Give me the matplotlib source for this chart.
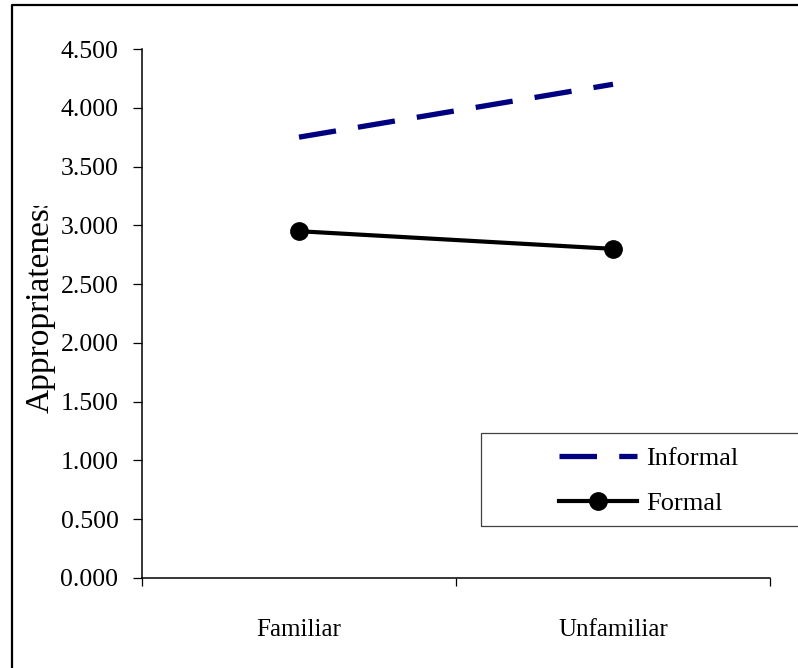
import matplotlib
matplotlib.use("Agg")
import matplotlib.pyplot as plt
from matplotlib.lines import Line2D
from matplotlib.patches import Rectangle
from matplotlib.transforms import Bbox

plt.rcParams['font.family'] = ['Liberation Serif', 'DejaVu Serif']
plt.rcParams['lines.scale_dashes'] = False

categories = ["Familiar", "Unfamiliar"]
informal = [3.75, 4.20]
formal = [2.95, 2.80]
yticks = [0.0, 0.5, 1.0, 1.5, 2.0, 2.5, 3.0, 3.5, 4.0, 4.5]

W, H = 798, 668
fig = plt.figure(figsize=(W / 100, H / 100), dpi=100)
ax = fig.add_axes([142 / W, 1 - 578 / H, (770 - 142) / W, (578 - 49) / H])

xpos = [i + 0.5 for i in range(len(categories))]
ax.plot(xpos, informal, color="#000080", lw=3.8, dashes=(27, 16),
        solid_capstyle="butt", dash_capstyle="butt", label="Informal")
ax.plot(xpos, formal, color="black", lw=3.0, marker="o", markersize=12.5,
        label="Formal")

ax.set_xlim(0, len(categories))
ax.set_ylim(0, 4.5)
ax.set_yticks(yticks)
ax.set_yticklabels([f"{v:.3f}" for v in yticks])
ax.set_xticks(range(len(categories) + 1))
ax.set_xticklabels([])
ax.set_xticks(xpos, minor=True)
ax.set_xticklabels(categories, minor=True)

for s in ("top", "right"):
    ax.spines[s].set_visible(False)
for s in ("left", "bottom"):
    ax.spines[s].set_linewidth(1.1)
ax.tick_params(axis="y", direction="out", length=6.5, width=0.9, pad=10.5,
               labelsize=18.5)
ax.tick_params(axis="x", which="major", direction="out", length=6, width=0.9)
ax.tick_params(axis="x", which="minor", length=0, pad=29.5, labelsize=18)

# y-axis title, clipped at the top of the plot region
ylab = fig.text(40 / W, 1 - 413 / H, "Appropriateness", rotation=90,
                ha="center", va="bottom", fontsize=24)
ylab.set_clip_box(Bbox([[0, 0], [W, H - 206]]))
ylab.set_clip_on(True)

# outer chart frame (left and top edges visible)
fig.add_artist(Line2D([12 / W, 12 / W, 1.0], [0, 1 - 5 / H, 1 - 5 / H],
                      transform=fig.transFigure, color="black", lw=1.6))

# legend box
fig.add_artist(Rectangle((481 / W, 1 - 526 / H), 0.5, (526 - 433) / H,
                         transform=fig.transFigure, fill=False,
                         edgecolor="#404040", lw=0.9))
leg = ax.legend(loc="center left", bbox_to_anchor=(559 / W, 1 - 481 / H),
                bbox_transform=fig.transFigure, frameon=False, fontsize=19,
                handlelength=2.95, handletextpad=0.35, labelspacing=0.82,
                borderpad=0, borderaxespad=0)

fig.savefig("out.png", dpi=100)
